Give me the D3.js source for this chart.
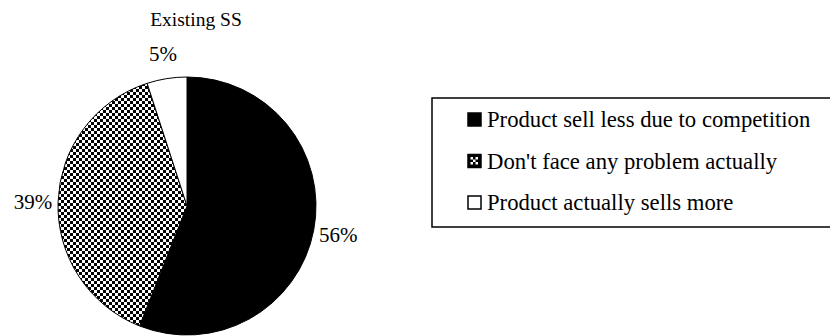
<!DOCTYPE html>
<html>
<head>
<meta charset="utf-8">
<script src="https://cdn.jsdelivr.net/npm/d3@7"></script>
<style>
  body { margin: 0; background: #fff; }
</style>
</head>
<body>
<div id="chart"></div>
<script>
// chart data
const categories = ["Product sell less due to competition", "Don't face any problem actually", "Product actually sells more"];
const values = [56, 39, 5];
const fills = ["#000", "url(#checker)", "#fff"];
const title = "Existing SS";

const width = 830, height = 336;
const cx = 187, cy = 206, radius = 129;
const font = "'Liberation Serif', 'Times New Roman', Tinos, 'DejaVu Serif', serif";

const svg = d3.select("#chart").append("svg")
    .attr("width", width)
    .attr("height", height)
    .style("display", "block")
    .attr("font-family", font);

// checkerboard pattern for the middle slice
const defs = svg.append("defs");
const pat = defs.append("pattern")
    .attr("id", "checker")
    .attr("patternUnits", "userSpaceOnUse")
    .attr("width", 6)
    .attr("height", 6);
pat.append("rect").attr("width", 6).attr("height", 6).attr("fill", "#fff");
pat.append("rect").attr("width", 3).attr("height", 3).attr("fill", "#000");
pat.append("rect").attr("x", 3).attr("y", 3).attr("width", 3).attr("height", 3).attr("fill", "#000");

svg.append("text")
    .attr("x", 196)
    .attr("y", 26)
    .attr("text-anchor", "middle")
    .attr("font-size", "19.5px")
    .text(title);

const data = categories.map((c, i) => ({ cause: c, value: values[i], fill: fills[i] }));

const pie = d3.pie().sort(null).value(d => d.value);
const arc = d3.arc().innerRadius(0).outerRadius(radius);
const labelArc = d3.arc().innerRadius(154).outerRadius(154);

const g = svg.append("g").attr("transform", `translate(${cx},${cy})`);
const arcs = pie(data);

g.selectAll("path")
    .data(arcs)
    .enter().append("path")
    .attr("d", arc)
    .attr("fill", d => d.data.fill)
    .attr("stroke", "#000")
    .attr("stroke-width", 1);

g.selectAll("text.lbl")
    .data(arcs)
    .enter().append("text")
    .attr("class", "lbl")
    .attr("transform", d => `translate(${labelArc.centroid(d)})`)
    .attr("text-anchor", "middle")
    .attr("dy", "0.35em")
    .attr("font-size", "21px")
    .text(d => d.data.value + "%");

// legend
const legend = svg.append("g").attr("transform", "translate(432, 98)");
legend.append("rect")
    .attr("width", 420)
    .attr("height", 129)
    .attr("fill", "none")
    .attr("stroke", "#000")
    .attr("stroke-width", 1.5);

data.forEach((d, i) => {
    const row = legend.append("g")
        .attr("transform", `translate(36, ${21.5 + i * 41.5})`);
    row.append("rect")
        .attr("x", 0)
        .attr("y", -6.5)
        .attr("width", 13)
        .attr("height", 13)
        .attr("fill", i === 1 ? "#000" : d.fill)
        .attr("stroke", "#000")
        .attr("stroke-width", 1.5);
    if (i === 1) {
        // small checker glyph inside the key box
        [[2, -4.5], [7, -4.5], [4.5, -2], [2, 0.5], [7, 0.5]].forEach(p => {
            row.append("rect")
                .attr("x", p[0] + 0.5)
                .attr("y", p[1] + 0.5)
                .attr("width", 2.5)
                .attr("height", 2.5)
                .attr("fill", "#fff");
        });
    }
    row.append("text")
        .attr("x", 19)
        .attr("y", 0)
        .attr("dy", "0.35em")
        .attr("font-size", "22.7px")
        .text(d.cause);
});
</script>
</body>
</html>
